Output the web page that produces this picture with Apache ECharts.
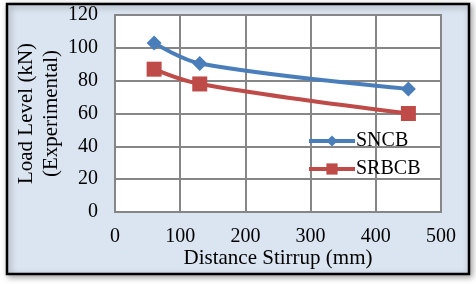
<!DOCTYPE html>
<html><head><meta charset="utf-8">
<script src="https://cdn.jsdelivr.net/npm/echarts@6/dist/echarts.min.js"></script>
<style>html,body{margin:0;padding:0;background:#fff}#c{width:476px;height:284px}</style>
</head><body><div id="c"></div>
<script>
const xSNCB = [60, 130, 450];
const ySNCB = [103, 90.5, 75];
const xSRBCB = [60, 130, 450];
const ySRBCB = [87, 78, 60];
const seriesNames = ['SNCB', 'SRBCB'];
const xTitle = 'Distance Stirrup (mm)';
const yTitle = 'Load Level (kN)\n(Experimental)';

const font = '"Liberation Serif", "Times New Roman", serif';
const fs = 20;
const fsT = 21;
const chart = echarts.init(document.getElementById('c'), null, {renderer: 'canvas'});
chart.setOption({
  animation: false,
  backgroundColor: '#ffffff',
  textStyle: {fontFamily: font},
  graphic: [{
    type: 'rect', z: -10, silent: true,
    shape: {x: 7, y: 4, width: 462, height: 270},
    style: {fill: '#dbe5f1', stroke: '#000', lineWidth: 2.5, shadowBlur: 6, shadowColor: 'rgba(0,0,0,0.35)', shadowOffsetX: 2, shadowOffsetY: 2}
  }],
  grid: {left: 115, right: 35, top: 15, bottom: 72, show: true, backgroundColor: '#ffffff', borderColor: '#868686', borderWidth: 2},
  legend: {
    orient: 'vertical', left: 302, top: 126, itemGap: 8,
    itemWidth: 46, itemHeight: 14,
    lineStyle: {width: 4},
    textStyle: {fontFamily: font, fontSize: fs, color: '#000', padding: [0, 0, 0, -4]},
    data: seriesNames.map(n => ({name: n}))
  },
  xAxis: {
    type: 'value', min: 0, max: 500, interval: 100,
    axisLine: {show: true, lineStyle: {color: '#868686', width: 2}},
    axisTick: {show: false},
    splitLine: {lineStyle: {color: '#868686', width: 2}},
    axisLabel: {fontFamily: font, fontSize: fs, color: '#000', margin: 15},
    name: xTitle, nameLocation: 'middle', nameGap: 36, nameMoveOverlap: false,
    nameTextStyle: {fontFamily: font, fontSize: fsT, color: '#000'}
  },
  yAxis: {
    type: 'value', min: 0, max: 120, interval: 20,
    axisLine: {show: true, lineStyle: {color: '#868686', width: 2}},
    axisTick: {show: false},
    splitLine: {lineStyle: {color: '#868686', width: 2}},
    axisLabel: {fontFamily: font, fontSize: fs, color: '#000', margin: 17},
    name: yTitle, nameLocation: 'middle', nameGap: 51, nameRotate: 90, nameMoveOverlap: false,
    nameTextStyle: {fontFamily: font, fontSize: fsT, color: '#000', lineHeight: 25}
  },
  series: [
    {name: seriesNames[0], type: 'line', smooth: 0.35,
     data: xSNCB.map((x, i) => [x, ySNCB[i]]),
     symbol: 'diamond', symbolSize: 15,
     lineStyle: {color: '#4a7ebb', width: 4}, itemStyle: {color: '#4a7ebb'}},
    {name: seriesNames[1], type: 'line', smooth: 0.35,
     data: xSRBCB.map((x, i) => [x, ySRBCB[i]]),
     symbol: 'rect', symbolSize: 15,
     lineStyle: {color: '#be4b48', width: 4}, itemStyle: {color: '#be4b48'}}
  ]
});
</script></body></html>
